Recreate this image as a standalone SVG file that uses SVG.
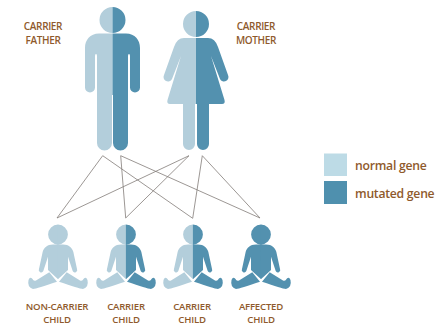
<svg xmlns="http://www.w3.org/2000/svg" width="445" height="326" viewBox="0 0 445 326">
<style>
.lt{fill:#b3cedb}
.dk{fill:#5391af}
.lab{font-family:"Open Sans","Noto Sans",sans-serif;font-size:10px;font-weight:600;fill:#8f5a2c;text-anchor:middle;letter-spacing:-.35px}
.sm{font-size:9.6px;letter-spacing:-.2px}
.leg{font-family:"Open Sans","Noto Sans",sans-serif;font-size:12.2px;font-weight:600;fill:#8f5a2c;letter-spacing:-.25px}
#links line{stroke:#837c78;stroke-width:.8;fill:none}
</style>
<defs>
<path id="fh" d="M112.5,7A13,13 0 0 0 112.5,33ZM112.500,33.500H99C90,33.500 85,40 85,48V87.500A5,5 0 0 0 95,87.500V56Q95,54 96,54T97,56V143A7.500,7.500 0 0 0 112,143V95H112.500Z"/>
<path id="mh" d="M196,11A13,13 0 0 0 196,37ZM196,38H184Q177,38 174,47L164,75A4.300,4.300 0 0 0 172,79L181,56L167.500,100Q166.500,104 170,104H183V144A6,6 0 0 0 195,144V104H196Z"/>
<path id="ch" d="M.1,224.500A10,10 0 0 0 .1,244.500ZM.1,244.500H-5C-11,244.500 -14,248 -15.300,251.700L-19,269A2.200,2.200 0 0 0 -14.700,271L-10,256.700V270L.1,279.300ZM-8.700,272.300L-22,280.500Q-24.500,281.500 -25.500,279Q-28,276 -29.500,280Q-31,287 -25,289Q-21,288.500 -1,281.700Z"/>
</defs>
<g id="links">
<line x1="102.700" y1="155.700" x2="57" y2="218"/>
<line x1="102.700" y1="155.700" x2="192.700" y2="218.300"/>
<line x1="120.700" y1="155.700" x2="125.700" y2="218"/>
<line x1="120.700" y1="155.700" x2="260" y2="218"/>
<line x1="189" y1="155.700" x2="57" y2="218"/>
<line x1="189" y1="155.700" x2="125.700" y2="218"/>
<line x1="202.300" y1="155.700" x2="192.700" y2="218.300"/>
<line x1="202.300" y1="155.700" x2="260" y2="218"/>
</g>
<g id="father">
<use href="#fh" class="lt"/>
<use href="#fh" class="dk" transform="matrix(-1 0 0 1 225 0)"/>
<text class="lab" x="43" y="30">CARRIER</text>
<text class="lab" x="43" y="44">FATHER</text>
</g>
<g id="mother">
<use href="#mh" class="lt"/>
<use href="#mh" class="dk" transform="matrix(-1 0 0 1 392 0)"/>
<text class="lab" x="256" y="30">CARRIER</text>
<text class="lab" x="256" y="44">MOTHER</text>
</g>
<g id="child1">
<use href="#ch" class="lt" transform="translate(58 0)"/>
<use href="#ch" class="lt" transform="matrix(-1 0 0 1 58 0)"/>
<text class="lab sm" x="57" y="310">NON-CARRIER</text>
<text class="lab sm" x="57" y="323.200">CHILD</text>
</g>
<g id="child2">
<use href="#ch" class="lt" transform="translate(126 0)"/>
<use href="#ch" class="dk" transform="matrix(-1 0 0 1 126 0)"/>
<text class="lab sm" x="126" y="310">CARRIER</text>
<text class="lab sm" x="126" y="323.200">CHILD</text>
</g>
<g id="child3">
<use href="#ch" class="lt" transform="translate(193 0)"/>
<use href="#ch" class="dk" transform="matrix(-1 0 0 1 193 0)"/>
<text class="lab sm" x="192" y="310">CARRIER</text>
<text class="lab sm" x="192" y="323.200">CHILD</text>
</g>
<g id="child4">
<use href="#ch" class="dk" transform="translate(261 0)"/>
<use href="#ch" class="dk" transform="matrix(-1 0 0 1 261 0)"/>
<text class="lab sm" x="261" y="310">AFFECTED</text>
<text class="lab sm" x="261" y="323.200">CHILD</text>
</g>
<g id="legend-normal">
<rect x="324" y="153.500" width="23" height="22.500" fill="#bddbe6"/>
<text class="leg" x="355" y="170">normal gene</text>
</g>
<g id="legend-mutated">
<rect x="324" y="181" width="23" height="23" fill="#4f90ae"/>
<text class="leg" x="355" y="198">mutated gene</text>
</g>
</svg>
